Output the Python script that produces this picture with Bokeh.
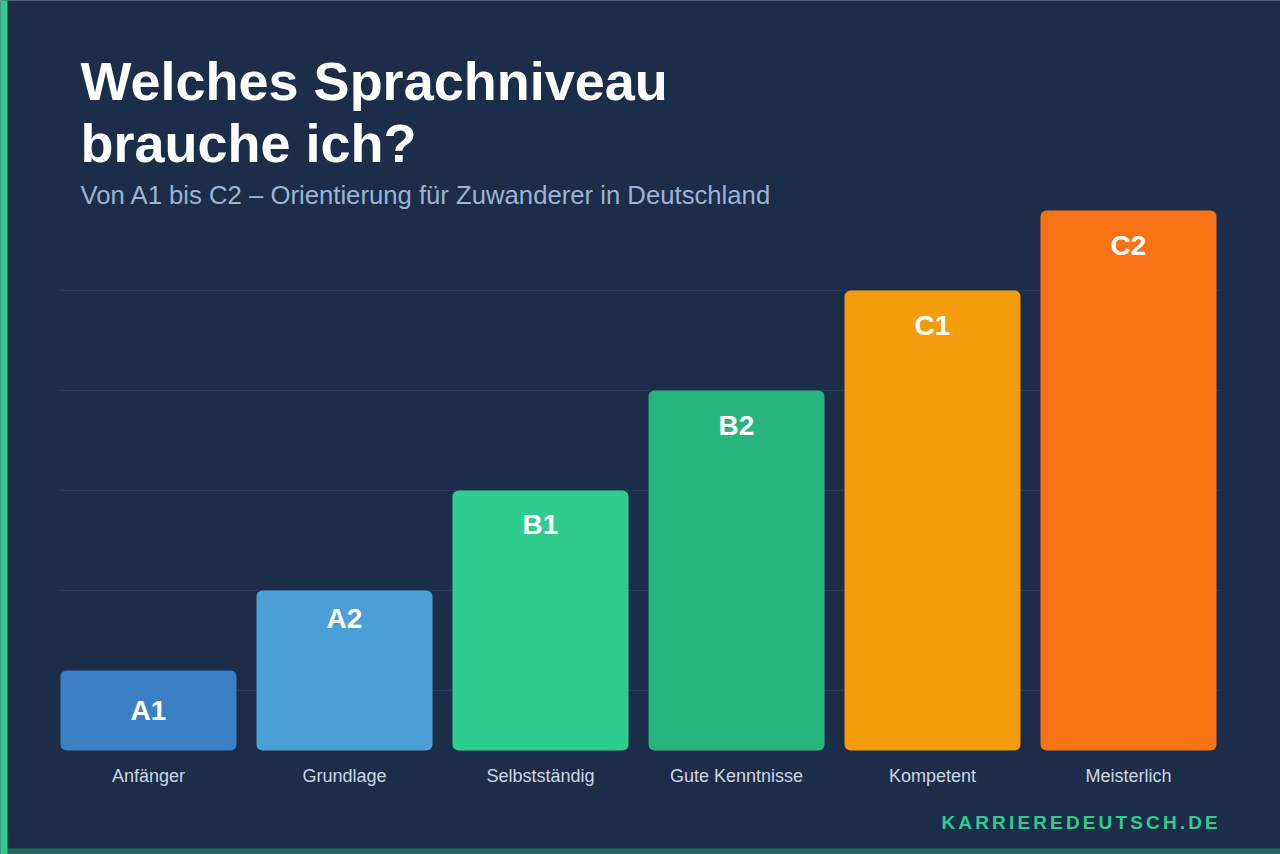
from bokeh.plotting import figure
from bokeh.models import Range1d, ColumnDataSource
from bokeh.core.properties import value
from bokeh.embed import file_html
from bokeh.resources import INLINE

# --- chart content -------------------------------------------------------
levels = ["A1", "A2", "B1", "B2", "C1", "C2"]
descriptions = ["Anfänger", "Grundlage", "Selbstständig",
                "Gute Kenntnisse", "Kompetent", "Meisterlich"]
heights = [8, 16, 26, 36, 46, 54]
grid_levels = [6, 16, 26, 36, 46]
bar_colors = ["#3b7fc4", "#4a9fd6", "#2ecc8e", "#27b57e", "#f39c0c", "#f97316"]

title_lines = ["Welches Sprachniveau", "brauche ich?"]
subtitle = "Von A1 bis C2 – Orientierung für Zuwanderer in Deutschland"
brand = "KARRIEREDEUTSCH.DE"

# --- styling -------------------------------------------------------------
BG = "#1c2d4a"
GREEN = "#2ecc8f"
FONT = value("Liberation Sans")
W, H = 1280, 854
PITCH = 196          # px between bar centres
FIRST_CENTER = 148   # px of first bar centre
UNIT = 10            # px per height unit
BASE = 750           # px of bar baseline
LIFT = 0.36          # baseline correction for the svg text layout, in em


def lift(size_px):
    return LIFT * size_px


p = figure(
    width=W, height=H, title=None, toolbar_location=None,
    output_backend="svg", x_axis_type=None, y_axis_type=None,
    x_range=Range1d(-FIRST_CENTER / PITCH, (W - FIRST_CENTER) / PITCH),
    y_range=Range1d(-(H - BASE) / UNIT, BASE / UNIT),
    min_border=0, outline_line_color=None,
    background_fill_color=BG, border_fill_color=BG,
)
p.grid.visible = False
# pixel-space ranges for page decoration and headings
p.extra_x_ranges = {"px": Range1d(0, W)}
p.extra_y_ranges = {"px": Range1d(H, 0)}

# solid page background reaching past every edge
p.quad(left=[-20], right=[W + 20], top=[-20], bottom=[H + 20],
       x_range_name="px", y_range_name="px", fill_color=BG, line_color=None)

xs = list(range(len(levels)))

# faint horizontal guides
p.segment(x0=[60] * len(grid_levels), x1=[1220] * len(grid_levels),
          y0=grid_levels, y1=grid_levels, x_range_name="px",
          line_color="#283b59", line_width=1)

# bars
src = ColumnDataSource(dict(x=xs, top=heights, color=bar_colors,
                            level=levels, desc=descriptions))
p.vbar(x="x", top="top", bottom=0, width=176 / PITCH, source=src,
       fill_color="color", line_color=None, border_radius=6)

# level names inside the bars (short bars centre the label)
label_drop = [5.0, 3.77, 4.4, 4.5, 4.5, 4.5]
p.text(x=xs, y=[h - d + lift(28) / UNIT for h, d in zip(heights, label_drop)],
       text=levels, text_font=FONT, text_font_style="bold",
       text_font_size="28px", text_color="#ffffff",
       text_align="center", text_baseline="alphabetic")

# descriptions under the bars
p.text(x=xs, y=[-3.22 + lift(18) / UNIT] * len(xs), text=descriptions,
       text_font=FONT, text_font_size="18px", text_color="#cdd6e2",
       text_align="center", text_baseline="alphabetic")

# headings
p.text(x=[80, 80], y=[100 - lift(54), 161.7 - lift(54)], text=title_lines,
       x_range_name="px", y_range_name="px", text_font=FONT,
       text_font_style="bold", text_font_size="54px", text_color="#ffffff",
       text_align="left", text_baseline="alphabetic")
p.text(x=[80], y=[203.3 - lift(25.7)], text=[subtitle], x_range_name="px",
       y_range_name="px", text_font=FONT, text_font_size="25.7px",
       text_color="#9ab4d2", text_align="left", text_baseline="alphabetic")

# letter-spaced brand line
adv = {"K": 722, "A": 722, "R": 722, "I": 278, "E": 667, "D": 722, "U": 722,
       "T": 611, "S": 667, "C": 722, "H": 722, ".": 278}
size, spacing = 19, 3.15
bx, cx = [], 941.0
for ch in brand:
    bx.append(cx)
    cx += adv.get(ch, 600) * size / 1000 + spacing
p.text(x=bx, y=[829.3 - lift(size)] * len(brand), text=list(brand),
       x_range_name="px", y_range_name="px", text_font=FONT,
       text_font_style="bold", text_font_size=f"{size}px", text_color=GREEN,
       text_align="left", text_baseline="alphabetic")

# page accents: bottom band and left stripe
p.quad(left=[-20], right=[W + 20], top=[848], bottom=[H + 20],
       x_range_name="px", y_range_name="px", fill_color="#21695f",
       line_color=None)
p.quad(left=[-20], right=[7], top=[-20], bottom=[H + 20], x_range_name="px",
       y_range_name="px", fill_color=GREEN, line_color=None)

open("out.html", "w").write(file_html(p, INLINE))
